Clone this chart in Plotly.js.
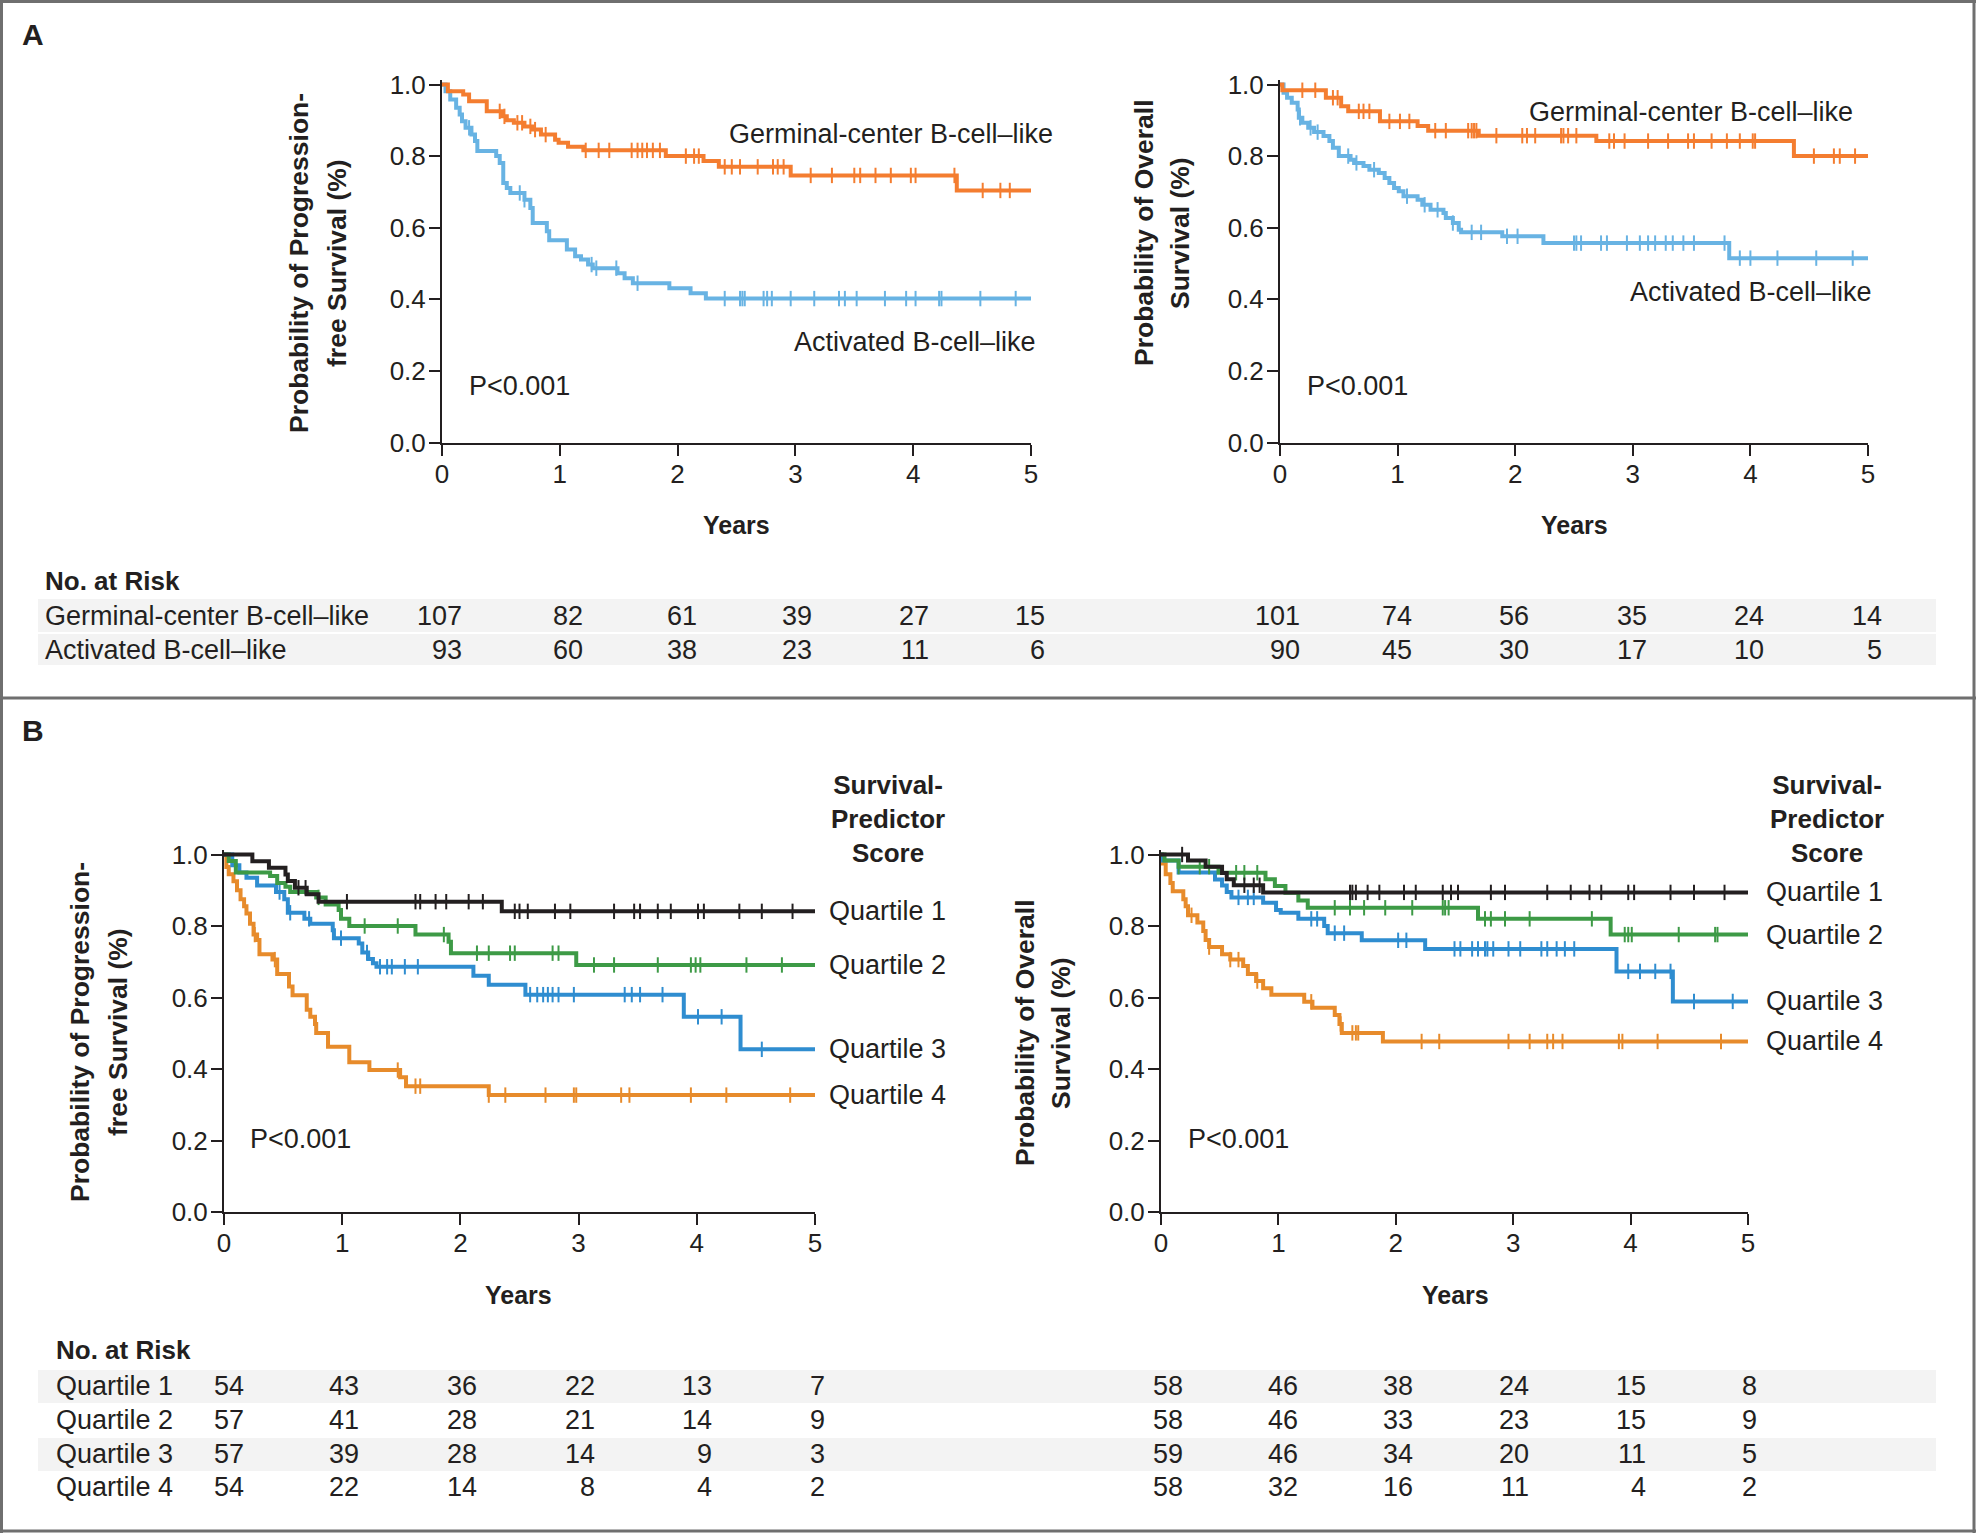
<!DOCTYPE html>
<html>
<head>
<meta charset="utf-8">
<script src="https://cdn.plot.ly/plotly-3.0.1.min.js"></script>
<style>
  html, body { margin: 0; padding: 0; background: #fff; }
  #chart { width: 1976px; height: 1533px; }
</style>
</head>
<body>
<div id="chart"></div>
<script>
// ---- data ----
var yearTicks = [0, 1, 2, 3, 4, 5];
var probTicks = [0, 0.2, 0.4, 0.6, 0.8, 1.0];

// Panel A, progression-free survival
var aPfsGcbT = [0, 0.05, 0.18, 0.23, 0.38, 0.51, 0.55, 0.61, 0.70, 0.77, 0.84, 0.96, 0.99, 1.07, 1.20, 1.90, 2.22, 2.35, 2.96, 4.37, 5.0];
var aPfsGcbS = [1, 0.981, 0.972, 0.953, 0.925, 0.911, 0.900, 0.893, 0.883, 0.874, 0.860, 0.846, 0.837, 0.826, 0.816, 0.800, 0.786, 0.770, 0.746, 0.704, 0.704];
var aPfsGcbC = [0.49, 0.53, 0.64, 0.68, 0.75, 0.79, 0.88, 1.22, 1.33, 1.42, 1.61, 1.66, 1.70, 1.74, 1.79, 1.85, 2.07, 2.14, 2.18, 2.40, 2.46, 2.53, 2.68, 2.81, 2.85, 2.90, 3.13, 3.31, 3.50, 3.55, 3.68, 3.81, 3.98, 4.02, 4.35, 4.59, 4.74, 4.82];
var aPfsAbcT = [0, 0.03, 0.07, 0.12, 0.15, 0.17, 0.20, 0.25, 0.28, 0.30, 0.46, 0.49, 0.52, 0.55, 0.58, 0.70, 0.75, 0.77, 0.89, 0.91, 1.06, 1.13, 1.18, 1.24, 1.28, 1.49, 1.55, 1.62, 1.93, 2.11, 2.24, 5.0];
var aPfsAbcS = [1, 0.981, 0.958, 0.935, 0.916, 0.897, 0.879, 0.860, 0.842, 0.814, 0.800, 0.781, 0.725, 0.711, 0.697, 0.678, 0.655, 0.613, 0.590, 0.565, 0.539, 0.520, 0.511, 0.497, 0.487, 0.473, 0.459, 0.445, 0.431, 0.417, 0.402, 0.402];
var aPfsAbcC = [0.23, 0.66, 0.70, 1.27, 1.31, 1.48, 1.66, 2.40, 2.53, 2.55, 2.57, 2.73, 2.76, 2.80, 2.96, 3.16, 3.37, 3.42, 3.52, 3.76, 3.94, 4.02, 4.22, 4.24, 4.57, 4.87];

// Panel A, overall survival
var aOsGcbT = [0, 0.02, 0.39, 0.52, 0.58, 0.85, 1.17, 1.26, 1.69, 2.69, 4.37, 5.0];
var aOsGcbS = [1, 0.984, 0.963, 0.939, 0.925, 0.897, 0.884, 0.871, 0.857, 0.842, 0.800, 0.800];
var aOsGcbC = [0.19, 0.30, 0.45, 0.49, 0.67, 0.71, 0.76, 0.93, 1.02, 1.10, 1.32, 1.41, 1.60, 1.63, 1.65, 1.67, 1.84, 2.06, 2.10, 2.17, 2.39, 2.41, 2.45, 2.52, 2.80, 2.84, 2.93, 3.13, 3.30, 3.47, 3.52, 3.67, 3.80, 3.91, 4.02, 4.04, 4.54, 4.71, 4.76, 4.89];
var aOsAbcT = [0, 0.03, 0.06, 0.10, 0.15, 0.16, 0.19, 0.24, 0.29, 0.37, 0.42, 0.45, 0.50, 0.60, 0.63, 0.71, 0.76, 0.84, 0.89, 0.93, 0.97, 1.01, 1.05, 1.17, 1.21, 1.28, 1.39, 1.41, 1.47, 1.52, 1.54, 1.89, 2.24, 3.82, 5.0];
var aOsAbcS = [1, 0.977, 0.963, 0.949, 0.930, 0.907, 0.893, 0.879, 0.867, 0.856, 0.842, 0.823, 0.800, 0.790, 0.781, 0.772, 0.762, 0.753, 0.739, 0.725, 0.711, 0.702, 0.688, 0.678, 0.664, 0.650, 0.641, 0.627, 0.613, 0.594, 0.587, 0.576, 0.557, 0.515, 0.515];
var aOsAbcC = [0.17, 0.26, 0.32, 0.58, 0.65, 0.80, 1.08, 1.23, 1.34, 1.47, 1.63, 1.71, 1.93, 2.02, 2.50, 2.52, 2.56, 2.73, 2.78, 2.95, 3.06, 3.13, 3.19, 3.28, 3.34, 3.43, 3.52, 3.78, 3.91, 4.00, 4.23, 4.56, 4.87];

// Panel B, progression-free survival by quartile
var bPfsQ1T = [0, 0.24, 0.38, 0.52, 0.54, 0.60, 0.70, 0.80, 2.35, 5.0];
var bPfsQ1S = [1, 0.981, 0.963, 0.944, 0.926, 0.907, 0.889, 0.868, 0.841, 0.841];
var bPfsQ1C = [0.63, 0.69, 1.04, 1.62, 1.66, 1.79, 1.88, 2.07, 2.19, 2.46, 2.50, 2.57, 2.80, 2.93, 3.30, 3.47, 3.52, 3.67, 3.78, 4.01, 4.06, 4.36, 4.55, 4.81];
var bPfsQ2T = [0, 0.04, 0.10, 0.39, 0.45, 0.52, 0.56, 0.78, 0.86, 0.97, 0.99, 1.06, 1.62, 1.90, 1.92, 2.98, 5.0];
var bPfsQ2S = [1, 0.982, 0.950, 0.940, 0.920, 0.910, 0.895, 0.880, 0.860, 0.845, 0.820, 0.800, 0.776, 0.756, 0.724, 0.691, 0.691];
var bPfsQ2C = [0.80, 1.19, 1.47, 1.86, 2.14, 2.24, 2.42, 2.46, 2.78, 2.83, 3.13, 3.30, 3.67, 3.95, 3.99, 4.03, 4.42, 4.72];
var bPfsQ3T = [0, 0.07, 0.13, 0.19, 0.28, 0.44, 0.51, 0.54, 0.68, 0.73, 0.92, 0.93, 1.14, 1.17, 1.22, 1.26, 1.29, 2.11, 2.24, 2.55, 3.89, 4.37, 5.0];
var bPfsQ3S = [1, 0.970, 0.950, 0.935, 0.913, 0.895, 0.875, 0.837, 0.820, 0.806, 0.788, 0.766, 0.751, 0.726, 0.708, 0.696, 0.686, 0.661, 0.636, 0.608, 0.546, 0.455, 0.455];
var bPfsQ3C = [0.47, 0.56, 0.72, 0.99, 1.21, 1.32, 1.38, 1.42, 1.53, 1.64, 2.59, 2.65, 2.70, 2.74, 2.78, 2.83, 2.96, 3.39, 3.45, 3.52, 3.71, 4.01, 4.21, 4.55];
var bPfsQ4T = [0, 0.02, 0.04, 0.08, 0.11, 0.14, 0.17, 0.19, 0.22, 0.25, 0.28, 0.30, 0.41, 0.45, 0.55, 0.58, 0.70, 0.73, 0.77, 0.78, 0.88, 1.06, 1.23, 1.49, 1.54, 2.24, 5.0];
var bPfsQ4S = [1, 0.965, 0.945, 0.925, 0.900, 0.875, 0.855, 0.835, 0.806, 0.776, 0.761, 0.721, 0.706, 0.666, 0.631, 0.606, 0.566, 0.546, 0.526, 0.501, 0.462, 0.419, 0.397, 0.377, 0.352, 0.327, 0.327];
var bPfsQ4C = [0.26, 0.43, 1.47, 1.62, 1.66, 2.24, 2.38, 2.72, 2.96, 2.98, 3.36, 3.43, 3.95, 4.25, 4.79];

// Panel B, overall survival by quartile
var bOsQ1T = [0, 0.23, 0.38, 0.52, 0.56, 0.62, 0.87, 5.0];
var bOsQ1S = [1, 0.983, 0.966, 0.948, 0.931, 0.914, 0.894, 0.894];
var bOsQ1C = [0.18, 0.71, 0.79, 0.84, 1.61, 1.63, 1.66, 1.76, 1.86, 2.07, 2.17, 2.40, 2.47, 2.53, 2.81, 2.93, 3.29, 3.49, 3.65, 3.75, 3.98, 4.03, 4.34, 4.54, 4.80];
var bOsQ2T = [0, 0.03, 0.15, 0.49, 0.89, 0.97, 1.06, 1.17, 1.25, 2.70, 3.83, 5.0];
var bOsQ2S = [1, 0.983, 0.966, 0.949, 0.931, 0.912, 0.893, 0.871, 0.851, 0.820, 0.776, 0.776];
var bOsQ2C = [0.15, 0.33, 0.41, 0.64, 0.71, 0.82, 1.48, 1.61, 1.73, 1.91, 2.14, 2.40, 2.42, 2.45, 2.76, 2.81, 2.93, 3.14, 3.67, 3.95, 3.98, 4.01, 4.41, 4.72, 4.74];
var bOsQ3T = [0, 0.01, 0.15, 0.46, 0.52, 0.56, 0.60, 0.87, 0.98, 1.02, 1.17, 1.39, 1.42, 1.71, 2.25, 3.88, 4.36, 5.0];
var bOsQ3S = [1, 0.983, 0.950, 0.930, 0.913, 0.895, 0.880, 0.865, 0.845, 0.837, 0.820, 0.800, 0.780, 0.760, 0.736, 0.673, 0.589, 0.589];
var bOsQ3C = [0.66, 0.74, 0.79, 1.28, 1.33, 1.48, 1.56, 2.02, 2.09, 2.50, 2.55, 2.65, 2.70, 2.76, 2.78, 2.83, 2.96, 3.06, 3.24, 3.29, 3.37, 3.44, 3.52, 3.98, 4.08, 4.21, 4.34, 4.54, 4.87];
var bOsQ4T = [0, 0.01, 0.04, 0.08, 0.10, 0.19, 0.21, 0.23, 0.31, 0.36, 0.38, 0.41, 0.52, 0.59, 0.70, 0.74, 0.81, 0.87, 0.94, 1.22, 1.29, 1.48, 1.52, 1.54, 1.89, 5.0];
var bOsQ4S = [1, 0.975, 0.945, 0.920, 0.897, 0.875, 0.855, 0.830, 0.810, 0.786, 0.761, 0.741, 0.721, 0.706, 0.688, 0.666, 0.646, 0.626, 0.608, 0.588, 0.571, 0.551, 0.526, 0.501, 0.477, 0.477];
var bOsQ4C = [0.26, 0.41, 0.59, 0.66, 0.82, 1.28, 1.53, 1.63, 1.66, 1.68, 2.22, 2.37, 2.96, 3.14, 3.29, 3.34, 3.42, 3.90, 3.93, 4.23, 4.77];

// numbers at risk
var aGroups = ['Germinal-center B-cell\u2013like', 'Activated B-cell\u2013like'];
var aPfsRisk = [[107, 82, 61, 39, 27, 15], [93, 60, 38, 23, 11, 6]];
var aOsRisk = [[101, 74, 56, 35, 24, 14], [90, 45, 30, 17, 10, 5]];
var quartiles = ['Quartile 1', 'Quartile 2', 'Quartile 3', 'Quartile 4'];
var bPfsRisk = [[54, 43, 36, 22, 13, 7], [57, 41, 28, 21, 14, 9], [57, 39, 28, 14, 9, 3], [54, 22, 14, 8, 4, 2]];
var bOsRisk = [[58, 46, 38, 24, 15, 8], [58, 46, 33, 23, 15, 9], [59, 46, 34, 20, 11, 5], [58, 32, 16, 11, 4, 2]];

// ---- styling ----
var INK = '#231f20';
var ORANGE_A = '#f47d30', BLUE_A = '#68b3e3';
var Q_COLORS = ['#231f20', '#3d9a46', '#2f8dd0', '#e78b2b'];
var FONT = '"Liberation Sans", Arial, sans-serif';
var W = 1976, H = 1533;
var YMAX = 1.012;
// right-edge offsets (px) of the at-risk columns from their year ticks
var shiftAPfs = [22, 25, 21, 19, 18, 16];
var shiftAOs = [22, 16, 16, 16, 16, 16];
var shiftBPfs = [22, 19, 19, 18, 17, 12];
var shiftBOs = [24, 22, 19, 18, 17, 11];
function px(v) { return v / W; }
function py(v) { return 1 - v / H; }

function survAt(t, s, v) {
  var out = s[0];
  for (var i = 0; i < t.length; i++) { if (t[i] <= v) out = s[i]; }
  return out;
}

var data = [];
function addCurve(t, s, c, color, xa, ya) {
  data.push({
    x: t, y: s, xaxis: xa, yaxis: ya, type: 'scatter', mode: 'lines',
    line: { shape: 'hv', color: color, width: 4 }, hoverinfo: 'skip'
  });
  data.push({
    x: c, y: c.map(function (v) { return survAt(t, s, v); }),
    xaxis: xa, yaxis: ya, type: 'scatter', mode: 'markers', cliponaxis: false,
    marker: { symbol: 'line-ns', size: 11, color: color, line: { width: 2, color: color } },
    hoverinfo: 'skip'
  });
}

addCurve(aPfsAbcT, aPfsAbcS, aPfsAbcC, BLUE_A, 'x', 'y');
addCurve(aPfsGcbT, aPfsGcbS, aPfsGcbC, ORANGE_A, 'x', 'y');
addCurve(aOsAbcT, aOsAbcS, aOsAbcC, BLUE_A, 'x2', 'y2');
addCurve(aOsGcbT, aOsGcbS, aOsGcbC, ORANGE_A, 'x2', 'y2');

var bPfs = [[bPfsQ1T, bPfsQ1S, bPfsQ1C], [bPfsQ2T, bPfsQ2S, bPfsQ2C], [bPfsQ3T, bPfsQ3S, bPfsQ3C], [bPfsQ4T, bPfsQ4S, bPfsQ4C]];
var bOs = [[bOsQ1T, bOsQ1S, bOsQ1C], [bOsQ2T, bOsQ2S, bOsQ2C], [bOsQ3T, bOsQ3S, bOsQ3C], [bOsQ4T, bOsQ4S, bOsQ4C]];
for (var q = 3; q >= 0; q--) addCurve(bPfs[q][0], bPfs[q][1], bPfs[q][2], Q_COLORS[q], 'x3', 'y3');
for (var q = 3; q >= 0; q--) addCurve(bOs[q][0], bOs[q][1], bOs[q][2], Q_COLORS[q], 'x4', 'y4');

function axisX(left, right, anchor) {
  return {
    domain: [px(left), px(right)], anchor: anchor, range: [0, 5], tickvals: yearTicks,
    ticks: 'outside', ticklen: 11, tickwidth: 2, tickcolor: INK, ticklabelstandoff: -4,
    showline: true, linewidth: 2, linecolor: INK, showgrid: false, zeroline: false,
    tickfont: { size: 26, color: INK }, fixedrange: true
  };
}
function axisY(zeroPx, onePx, anchor) {
  var top = zeroPx - (zeroPx - onePx) * YMAX;
  return {
    domain: [py(zeroPx), py(top)], anchor: anchor, range: [0, YMAX], tickvals: probTicks,
    ticktext: probTicks.map(function (v) { return v.toFixed(1); }),
    ticks: 'outside', ticklen: 11, tickwidth: 2, tickcolor: INK, ticklabelstandoff: -2,
    showline: true, linewidth: 2, linecolor: INK, showgrid: false, zeroline: false,
    tickfont: { size: 26, color: INK }, fixedrange: true
  };
}

var ann = [];
function text(x, y, t, opts) {
  var a = {
    x: px(x), y: py(y), xref: 'paper', yref: 'paper', text: t, showarrow: false,
    xanchor: 'center', yanchor: 'middle', font: { size: 27, color: INK }
  };
  for (var k in opts) a[k] = opts[k];
  ann.push(a);
}
function bold(size) { return { size: size, color: INK, family: FONT, weight: 'bold' }; }

// panel letters
text(33, 34, '<b>A</b>', { font: bold(30) });
text(33, 731, '<b>B</b>', { font: bold(30) });

// y titles (two lines each)
function yTitle(x1, x2, yc, l1, l2) {
  text(x1, yc, '<b>' + l1 + '</b>', { textangle: -90, font: bold(26.5) });
  text(x2, yc, '<b>' + l2 + '</b>', { textangle: -90, font: bold(26.5) });
}
yTitle(299, 337, 263, 'Probability of Progression-', 'free Survival (%)');
yTitle(1144, 1180, 233, 'Probability of Overall', 'Survival (%)');
yTitle(80, 118, 1032, 'Probability of Progression-', 'free Survival (%)');
yTitle(1025, 1061, 1033, 'Probability of Overall', 'Survival (%)');

// x titles
[[736, 525], [1574, 525], [518, 1295], [1455, 1295]].forEach(function (p) {
  text(p[0], p[1], '<b>Years</b>', { font: bold(25) });
});

// P values
[[467, 386], [1305, 386], [248, 1139], [1186, 1139]].forEach(function (p) {
  text(p[0], p[1], 'P&lt;0.001', { xanchor: 'left' });
});

// curve labels, panel A
text(1055, 134, aGroups[0], { xanchor: 'right' });
text(1038, 342, aGroups[1], { xanchor: 'right' });
text(1855, 112, aGroups[0], { xanchor: 'right' });
text(1874, 292, aGroups[1], { xanchor: 'right' });

// legend headings, panel B
text(888, 819, '<b>Survival-<br>Predictor<br>Score</b>', { font: bold(26) });
text(1827, 819, '<b>Survival-<br>Predictor<br>Score</b>', { font: bold(26) });

// quartile labels at curve ends
for (var q = 0; q < 4; q++) {
  var sp = bPfs[q][1], so = bOs[q][1];
  ann.push({ x: 5, y: sp[sp.length - 1], xref: 'x3', yref: 'y3', xanchor: 'left', yanchor: 'middle', xshift: 12,
    text: quartiles[q], showarrow: false, font: { size: 27, color: INK } });
  ann.push({ x: 5, y: so[so.length - 1], xref: 'x4', yref: 'y4', xanchor: 'left', yanchor: 'middle', xshift: 16,
    text: quartiles[q], showarrow: false, font: { size: 27, color: INK } });
}

// numbers-at-risk tables
var shapes = [];
function band(y0, y1) {
  shapes.push({ type: 'rect', xref: 'paper', yref: 'paper', x0: px(38), x1: px(1936), y0: py(y1), y1: py(y0),
    fillcolor: '#f3f3f3', line: { width: 0 }, layer: 'below' });
}
function riskRow(values, xref, yPix, shifts) {
  values.forEach(function (v, i) {
    ann.push({ x: yearTicks[i], y: py(yPix), xref: xref, yref: 'paper', xanchor: 'right', yanchor: 'middle',
      xshift: shifts[i], text: String(v), showarrow: false, font: { size: 27, color: INK } });
  });
}

text(43, 581, '<b>No. at Risk</b>', { xanchor: 'left', font: bold(26) });
var aRows = [616, 650];
band(599, 632); band(634, 665);
aGroups.forEach(function (g, i) {
  text(43, aRows[i], g, { xanchor: 'left' });
  riskRow(aPfsRisk[i], 'x', aRows[i], shiftAPfs);
  riskRow(aOsRisk[i], 'x2', aRows[i], shiftAOs);
});

text(54, 1350, '<b>No. at Risk</b>', { xanchor: 'left', font: bold(26) });
var bRows = [1386, 1420, 1454, 1487];
band(1370, 1403); band(1438, 1471);
quartiles.forEach(function (g, i) {
  text(54, bRows[i], g, { xanchor: 'left' });
  riskRow(bPfsRisk[i], 'x3', bRows[i], shiftBPfs);
  riskRow(bOsRisk[i], 'x4', bRows[i], shiftBOs);
});

// frame
var FRAME = '#6f6f6f';
[[1.5, 0, 1.5, H], [W - 2, 0, W - 2, H]].forEach(function (l) {
  shapes.push({ type: 'line', xref: 'paper', yref: 'paper', x0: px(l[0]), x1: px(l[2]), y0: py(l[1]), y1: py(l[3]),
    line: { color: FRAME, width: 3 } });
});
[1.5, 698, H - 2].forEach(function (y) {
  shapes.push({ type: 'line', xref: 'paper', yref: 'paper', x0: 0, x1: 1, y0: py(y), y1: py(y),
    line: { color: FRAME, width: 3 } });
});

var layout = {
  width: W, height: H, margin: { l: 0, r: 0, t: 0, b: 0 },
  paper_bgcolor: '#ffffff', plot_bgcolor: 'rgba(0,0,0,0)', showlegend: false,
  font: { family: FONT, size: 27, color: INK },
  xaxis: axisX(442, 1031, 'y'), yaxis: axisY(442.5, 84.5, 'x'),
  xaxis2: axisX(1280, 1868, 'y2'), yaxis2: axisY(442.5, 84.5, 'x2'),
  xaxis3: axisX(224, 815, 'y3'), yaxis3: axisY(1212, 854.5, 'x3'),
  xaxis4: axisX(1161, 1748, 'y4'), yaxis4: axisY(1212, 854.5, 'x4'),
  annotations: ann, shapes: shapes
};

Plotly.newPlot('chart', data, layout, { displayModeBar: false, staticPlot: true });
</script>
</body>
</html>
